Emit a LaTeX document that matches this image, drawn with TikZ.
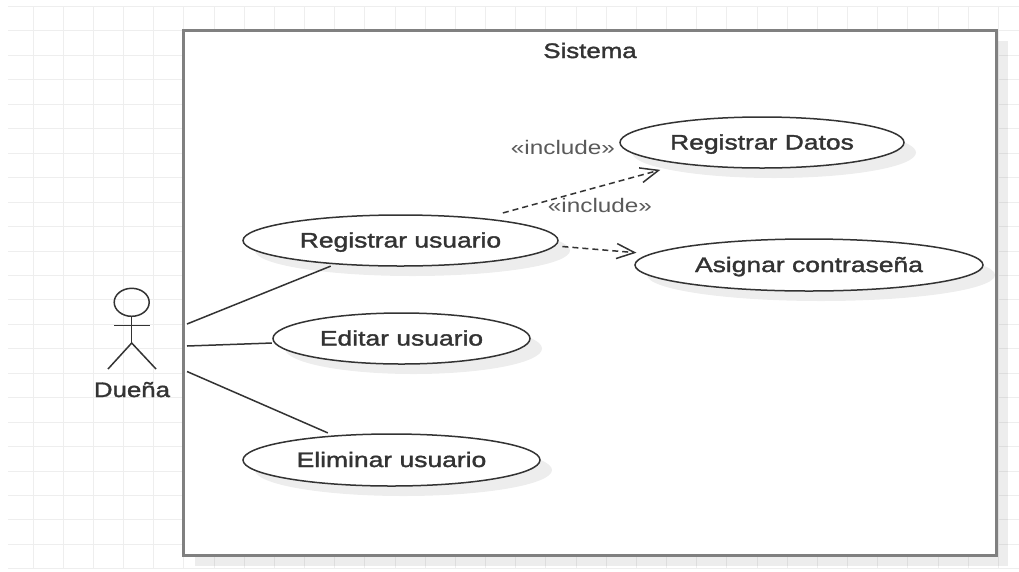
\documentclass[tikz,border=0pt]{standalone}
\usepackage{fontspec}
\usetikzlibrary{shapes.geometric,shadows,arrows.meta}
\newfontfamily\boldlab[FakeStretch=1.26,FakeBold=1.6]{Liberation Sans}
\newfontfamily\titlelab[FakeStretch=1.23,FakeBold=1.6]{Liberation Sans}
\newfontfamily\inclab[FakeStretch=1.24]{Liberation Sans}
\definecolor{gridc}{HTML}{EEEEEE}
\definecolor{inkc}{HTML}{333333}
\definecolor{framec}{HTML}{808080}
\definecolor{stereoc}{HTML}{5A5A5A}
\tikzset{
  softshadow/.style={drop shadow={shadow xshift=12pt,shadow yshift=-10pt,fill=black,opacity=0.07}},
  usecase/.style={ellipse,draw=inkc,line width=1.5pt,fill=white,inner sep=0pt,outer sep=0pt,softshadow,text=inkc,text height=15pt,text depth=1pt,font=\boldlab\fontsize{21pt}{24pt}\selectfont},
  systembox/.style={rectangle,draw=framec,line width=3pt,fill=white,inner sep=0pt,outer sep=0pt,softshadow},
  title/.style={inner sep=0pt,text=inkc,text height=15pt,text depth=1pt,font=\titlelab\fontsize{21pt}{24pt}\selectfont},
  stereo/.style={inner sep=0pt,text=stereoc,font=\inclab\fontsize{19.6pt}{24pt}\selectfont},
  assoc/.style={draw=inkc,line width=1.5pt},
  includes/.style={draw=inkc,line width=1.5pt,dash pattern=on 6pt off 4pt,-{Straight Barb[length=18pt,width=15pt]}},
  figure/.style={draw=inkc,line width=1.5pt},
}
\begin{document}
\begin{tikzpicture}[x=1pt,y=-1pt]
\path[use as bounding box,fill=white] (0,0) rectangle (1019,571);
% grid
\foreach \i in {0,...,32} \draw[gridc,line width=1pt] ({33+\i*30.17},6) -- ({33+\i*30.17},569);
\foreach \j in {0,...,23} \draw[gridc,line width=1pt] (8,{6.5+\j*24.45}) -- (1019,{6.5+\j*24.45});
% system frame
\node[systembox,minimum width=813pt,minimum height=525pt] (sys) at (589.5,293) {};
\node[title] (systitle) at (590,51) {Sistema};
% use cases
\node[usecase,minimum width=315pt,minimum height=51pt] (reg) at (400.5,240.5) {Registrar usuario};
\node[usecase,minimum width=257pt,minimum height=51pt] (edit) at (401.5,338.5) {Editar usuario};
\node[usecase,minimum width=297pt,minimum height=52pt] (elim) at (391.5,460) {Eliminar usuario};
\node[usecase,minimum width=284pt,minimum height=51pt] (datos) at (762,142.5) {Registrar Datos};
\node[usecase,minimum width=348pt,minimum height=52pt] (asig) at (809,265) {Asignar contraseña};
% actor
\node[ellipse,draw=inkc,line width=1.5pt,minimum width=35pt,minimum height=28pt,inner sep=0pt,outer sep=0pt] (head) at (131.7,302.3) {};
\coordinate (hip) at (131.7,343);
\coordinate (armL) at (114,325.5);
\coordinate (armR) at (149.5,325.5);
\coordinate (footL) at (108,369);
\coordinate (footR) at (156,369);
\draw[figure] (head.south) -- (hip);
\draw[figure] (armL) -- (armR);
\draw[figure] (footL) -- (hip) -- (footR);
\node[title] (actor) at (132,390) {Dueña};
% associations
\coordinate (a1) at (187,324);
\coordinate (a2) at (187,346);
\coordinate (a3) at (187,371.5);
\draw[assoc,shorten >=6.2pt] (a1) -- (reg.200.2);
\draw[assoc,shorten >=3pt] (a2) -- (edit.182);
\draw[assoc,shorten >=7.7pt] (a3) -- (elim.157.4);
% includes
\draw[includes,shorten <=21.7pt,shorten >=23.5pt] (reg.15.6) -- (datos.195.1);
\draw[includes,shorten <=8pt,shorten >=15pt] (reg.-2.9) -- (asig.176.8);
\node[stereo] (inc1) at (563,147) {«include»};
\node[stereo] (inc2) at (600,205) {«include»};
\end{tikzpicture}
\end{document}
